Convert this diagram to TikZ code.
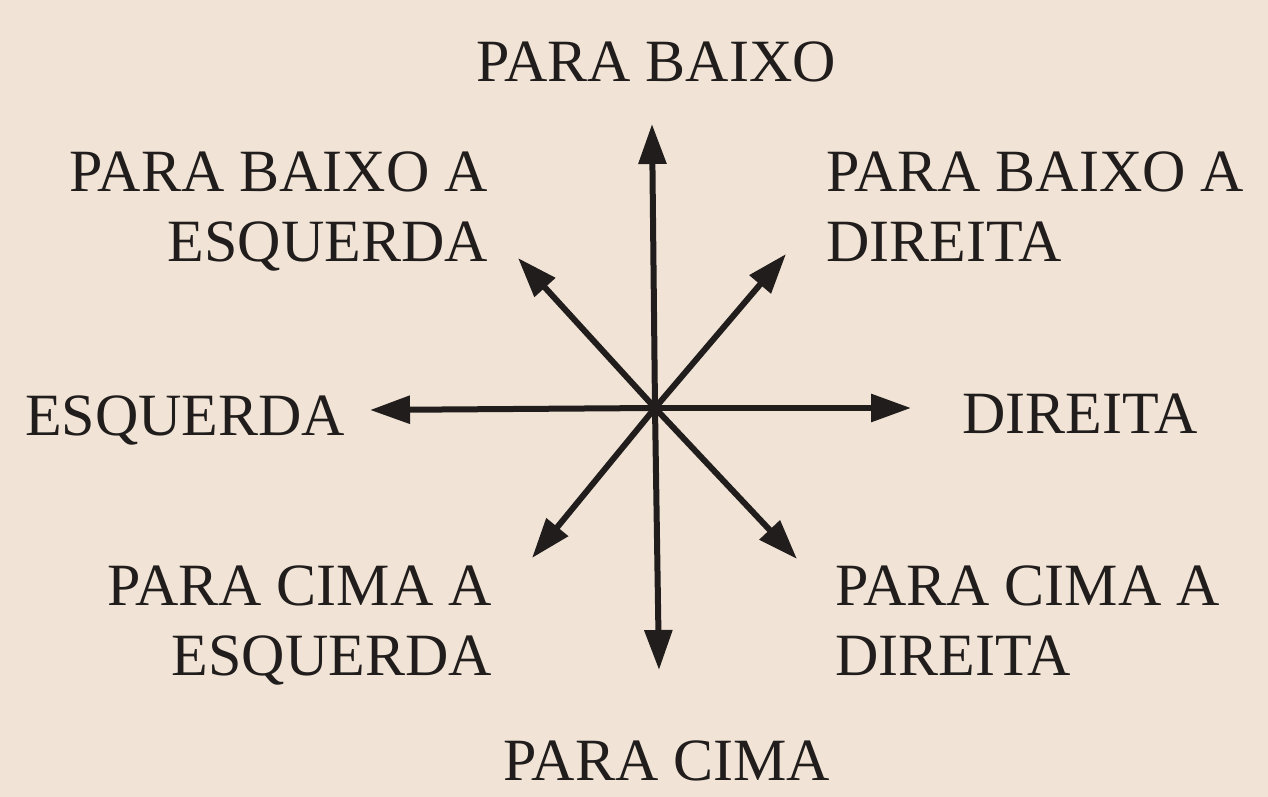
\documentclass[tikz,border=0pt]{standalone}
\usepackage{fontspec}
\setmainfont{Liberation Serif}
\usetikzlibrary{arrows.meta}
\definecolor{paper}{RGB}{241,228,214}
\definecolor{ink}{RGB}{32,29,28}
\tikzset{
  lbl/.style={inner sep=0pt, text=ink, font=\fontsize{60}{70}\selectfont},
  dirarrow/.style={draw=ink, line width=6pt, -{Triangle[length=40pt,width=27pt]}},
}
\begin{document}
\begin{tikzpicture}[x=1pt,y=-1pt]
\fill[paper] (0,0) rectangle (1268,797);
\useasboundingbox (0,0) rectangle (1268,797);
\coordinate (c) at (655,408);
\coordinate (tU) at (652,124);
\coordinate (tD) at (659,670);
\coordinate (tL) at (370,410);
\coordinate (tR) at (911,408);
\coordinate (tUL) at (518,258);
\coordinate (tUR) at (786,254);
\coordinate (tDL) at (532,558);
\coordinate (tDR) at (797,559);
\foreach \t in {tU,tD,tL,tR,tUL,tUR,tDL,tDR}
  \draw[dirarrow] (c) -- (\t);
\node[lbl, anchor=base] (nU) at (656,82) {PARA BAIXO};
\node[lbl, anchor=base] (nD) at (667,780) {PARA CIMA};
\node[lbl, anchor=base west] (nL) at (25,435) {ESQUERDA};
\node[lbl, anchor=base west] (nR) at (962,433) {DIREITA};
\node[lbl, anchor=north east, align=right] (nUL) at (488,152) {PARA BAIXO A\\ESQUERDA};
\node[lbl, anchor=north west, align=left] (nUR) at (826,152) {PARA BAIXO A\\DIREITA};
\node[lbl, anchor=north east, align=right] (nDL) at (492,566) {PARA CIMA A\\ESQUERDA};
\node[lbl, anchor=north west, align=left] (nDR) at (835,566) {PARA CIMA A\\DIREITA};
\end{tikzpicture}
\end{document}
